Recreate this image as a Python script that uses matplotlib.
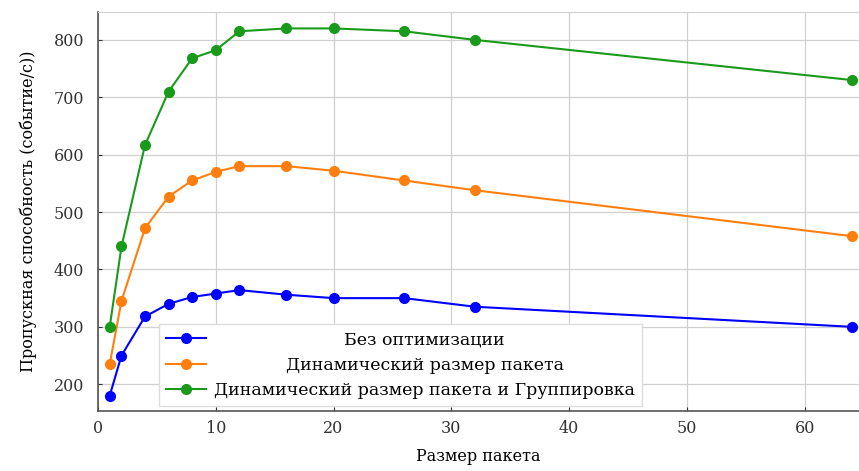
import numpy as np
import matplotlib
matplotlib.use("Agg")
import matplotlib.pyplot as plt

plt.rcParams['font.family'] = ['DejaVu Serif']
plt.rcParams['mathtext.fontset'] = 'dejavuserif'

batch = [1, 2, 4, 6, 8, 10, 12, 16, 20, 26, 32, 64]
no_opt = [180, 250, 318, 340, 352, 358, 364, 356, 350, 350, 335, 300]
dyn = [235, 345, 472, 527, 555, 570, 580, 580, 572, 555, 538, 458]
dyn_group = [300, 440, 617, 710, 768, 782, 815, 820, 820, 815, 800, 730]
labels = ['Без оптимизации', 'Динамический размер пакета',
          'Динамический размер пакета и Группировка']

fig = plt.figure(figsize=(8.59, 4.71), dpi=100)
ax = fig.add_axes([0.114, 0.127, 0.886, 0.848])

ax.plot(batch, no_opt, '-o', color='#0000ff', lw=1.5, ms=7, label=labels[0])
ax.plot(batch, dyn, '-o', color='#ff7f0e', lw=1.5, ms=7, label=labels[1])
ax.plot(batch, dyn_group, '-o', color='#1a9a1a', lw=1.5, ms=7, label=labels[2])

ax.set_xlim(0, 64.6)
ax.set_ylim(153, 849)
ax.set_xticks([0, 10, 20, 30, 40, 50, 60])
ax.set_yticks([200, 300, 400, 500, 600, 700, 800])
ax.grid(True, color='#d0d0d0', lw=0.9)
ax.set_axisbelow(True)
for s in ['left', 'bottom']:
    ax.spines[s].set_color('#555555')
    ax.spines[s].set_linewidth(1.2)
for s in ['top', 'right']:
    ax.spines[s].set_color('#d0d0d0')
ax.tick_params(direction='in', length=3, labelsize=11.5, colors='#333333')
ax.tick_params(axis='y', pad=10)
ax.tick_params(axis='x', pad=6)

ax.set_xlabel('Размер пакета', fontsize=11.5, labelpad=8)
ax.set_ylabel('Пропускная способность (событие/с))', fontsize=11.5, labelpad=12)

leg = ax.legend(loc='lower left', bbox_to_anchor=(0.08, 0.012), borderaxespad=0,
                fontsize=12.5, fancybox=False, edgecolor='#dddddd', framealpha=1,
                handlelength=2.3, labelspacing=0.5, handletextpad=0.5)

# centre the legend labels like the original
fig.canvas.draw()
r = fig.canvas.get_renderer()
texts = leg.get_texts()
widths = [t.get_window_extent(r).width for t in texts]
mw = max(widths)
for t, w in zip(texts, widths):
    t.set_x((mw - w) / 2)

fig.savefig('out.png', dpi=100)
